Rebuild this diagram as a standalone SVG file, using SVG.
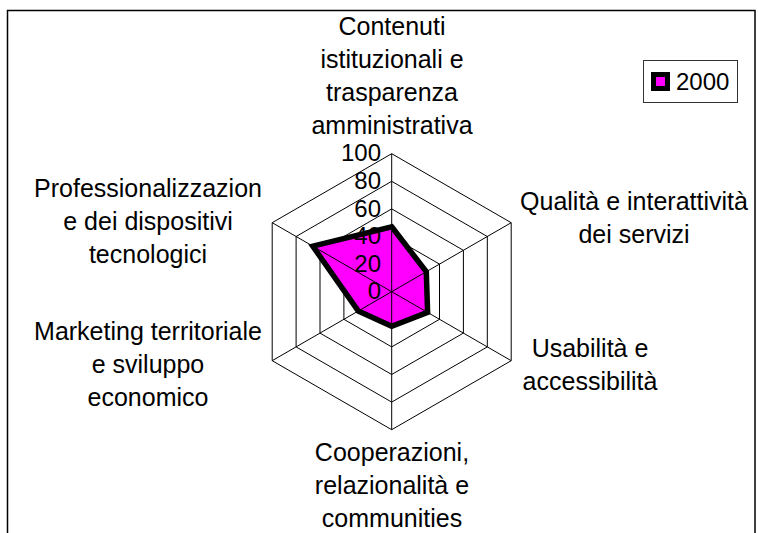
<svg xmlns="http://www.w3.org/2000/svg" width="758" height="533" viewBox="0 0 758 533">
<style>
text{font-family:"Liberation Sans",Arial,sans-serif;fill:#000}
.lab{font-size:25px;text-anchor:middle}
.tick{font-size:24px;text-anchor:end}
.grid{fill:none;stroke:#000;stroke-width:1}
</style>
<rect x="0" y="0" width="758" height="533" fill="#fff"/>
<rect id="frame" x="7.5" y="10.5" width="747.5" height="540" fill="none" stroke="#000" stroke-width="1.5"/>
<g id="grid" transform="translate(391.7,291.7)">
<polygon class="grid" points="0,-138 119.5,-69 119.5,69 0,138 -119.5,69 -119.5,-69"/>
<polygon class="grid" points="0,-110.4 95.6,-55.2 95.6,55.2 0,110.4 -95.6,55.2 -95.6,-55.2"/>
<polygon class="grid" points="0,-82.8 71.7,-41.4 71.7,41.4 0,82.8 -71.7,41.4 -71.7,-41.4"/>
<polygon class="grid" points="0,-55.2 47.8,-27.6 47.8,27.6 0,55.2 -47.8,27.6 -47.8,-27.6"/>
<polygon class="grid" points="0,-27.6 23.9,-13.8 23.9,13.8 0,27.6 -23.9,13.8 -23.9,-13.8"/>
</g>
<g id="series-2000" transform="translate(391.7,291.7)">
<polygon points="0,-64.9 34.6,-20 35.9,20.7 0,34.5 -33.4,19.3 -78.9,-45.5" fill="#ff00ff" stroke="#000" stroke-width="5.5" stroke-linejoin="miter"/>
</g>
<g id="connectors" transform="translate(391.7,291.7)">
<path class="grid" d="M0,0V-138M0,0L119.5,-69M0,0L119.5,69M0,0V138M0,0L-119.5,69M0,0L-119.5,-69"/>
</g>
<g id="ticks">
<text class="tick" x="381" y="161.3">100</text>
<text class="tick" x="381" y="188.9">80</text>
<text class="tick" x="381" y="216.5">60</text>
<text class="tick" x="381" y="244.1">40</text>
<text class="tick" x="381" y="271.7">20</text>
<text class="tick" x="381" y="299.3">0</text>
</g>
<g id="label-contenuti">
<text class="lab" x="392" y="35">Contenuti</text>
<text class="lab" x="392" y="68">istituzionali e</text>
<text class="lab" x="392" y="101">trasparenza</text>
<text class="lab" x="392" y="134">amministrativa</text>
</g>
<g id="label-qualita">
<text class="lab" x="634" y="210">Qualità e interattività</text>
<text class="lab" x="634" y="243">dei servizi</text>
</g>
<g id="label-usabilita">
<text class="lab" x="590" y="357">Usabilità e</text>
<text class="lab" x="590" y="390">accessibilità</text>
</g>
<g id="label-cooperazioni">
<text class="lab" x="392" y="461">Cooperazioni,</text>
<text class="lab" x="392" y="494">relazionalità e</text>
<text class="lab" x="392" y="527">communities</text>
</g>
<g id="label-marketing">
<text class="lab" x="148" y="340">Marketing territoriale</text>
<text class="lab" x="148" y="373">e sviluppo</text>
<text class="lab" x="148" y="406">economico</text>
</g>
<g id="label-professionalizzazione">
<text class="lab" x="148" y="197">Professionalizzazion</text>
<text class="lab" x="148" y="230">e dei dispositivi</text>
<text class="lab" x="148" y="263">tecnologici</text>
</g>
<g id="legend">
<rect x="643.5" y="60.5" width="94" height="42" fill="#fff" stroke="#333" stroke-width="1"/>
<rect x="651" y="72" width="19" height="19" fill="#000"/>
<rect x="656" y="77" width="9" height="9" fill="#ff00ff"/>
<text x="676" y="89.5" style="font-size:24px">2000</text>
</g>
</svg>
